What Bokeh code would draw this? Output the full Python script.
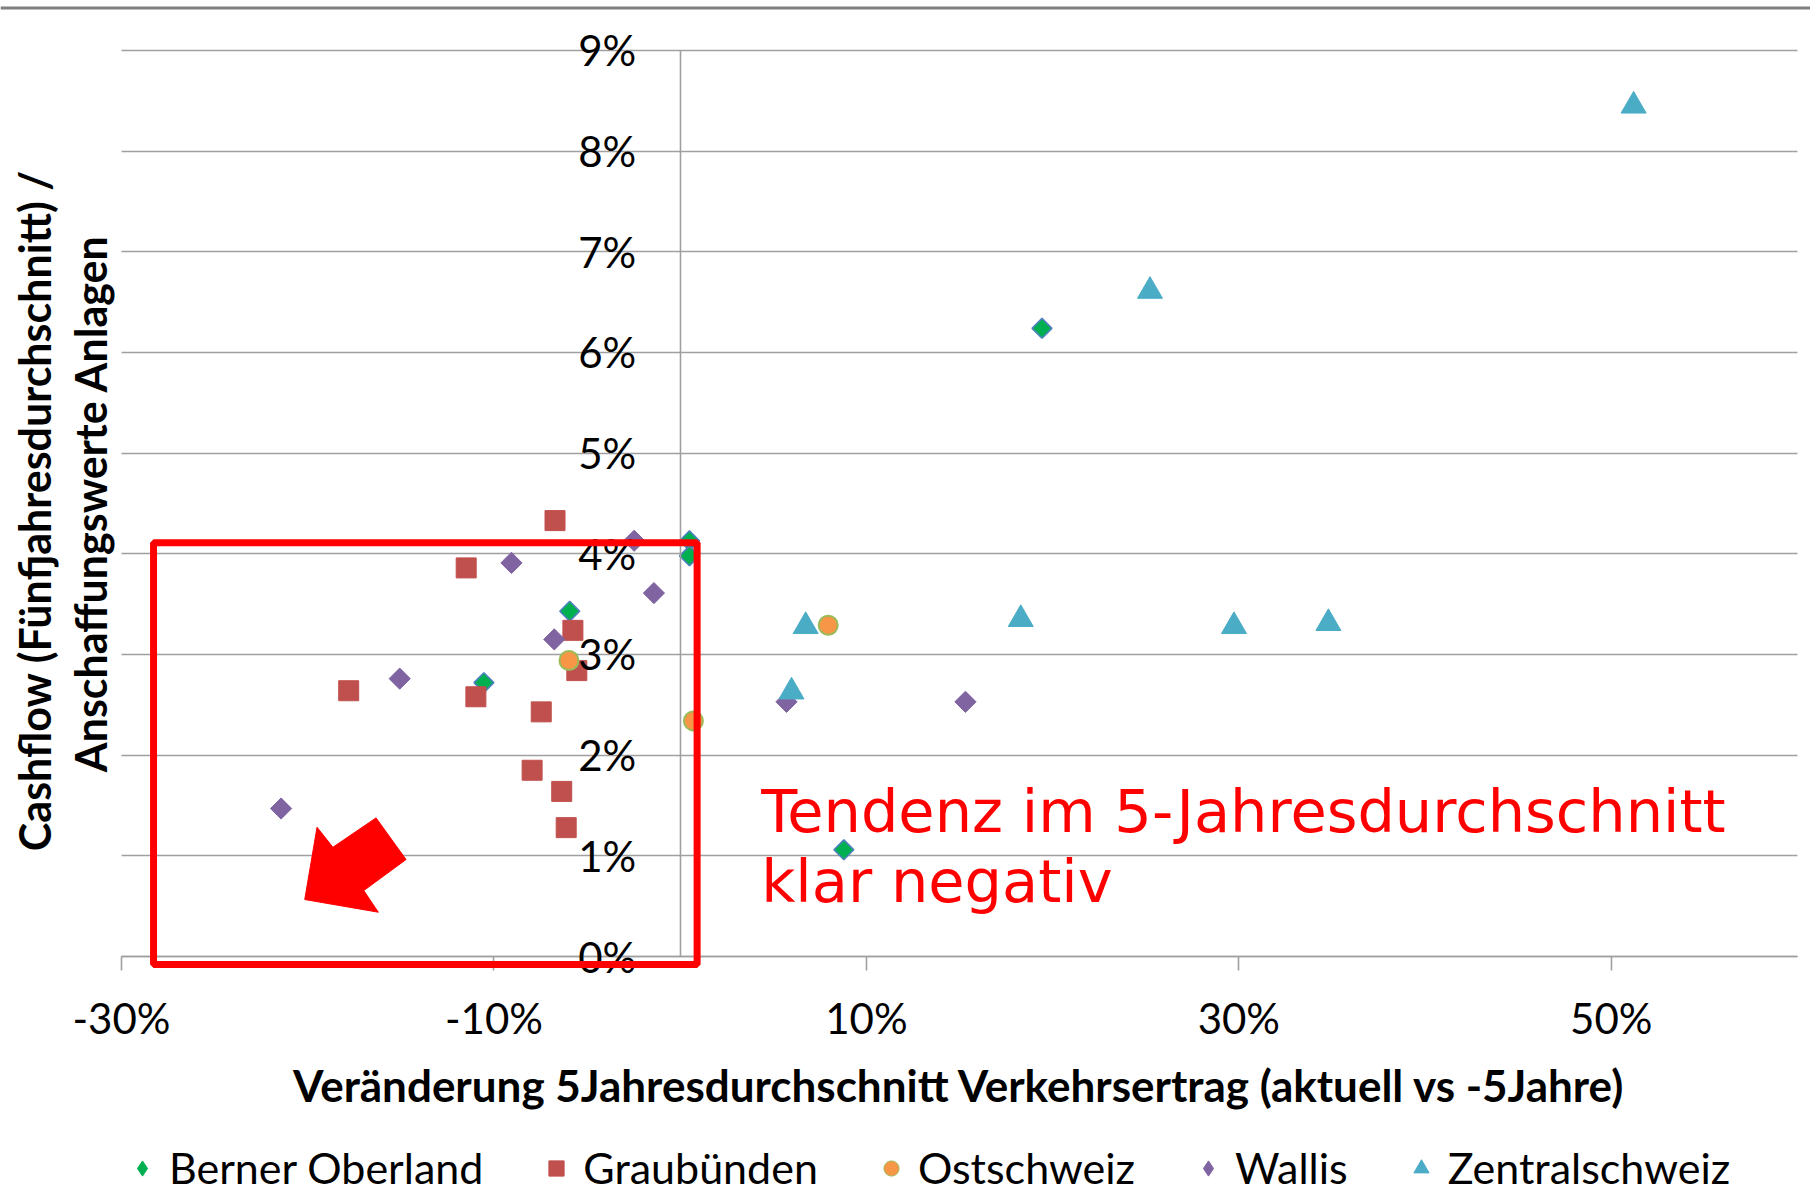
import math
from bokeh.plotting import figure
from bokeh.models import (Range1d, FixedTicker, PrintfTickFormatter, Label, Grid,
                          BoxAnnotation, Legend, LegendItem, ColumnDataSource)
from bokeh.embed import file_html
from bokeh.resources import INLINE

# ---------------- data (percent) ----------------
series_names = ["Berner Oberland", "Graubünden", "Ostschweiz", "Wallis", "Zentralschweiz"]

berner_x = [0.50, 0.50, -5.93, -10.54, 19.43, 8.79]
berner_y = [4.13, 3.98, 3.43, 2.72, 6.24, 1.06]

graub_x = [-6.72, -11.49, -5.76, -5.55, -17.80, -10.97, -7.46, -7.95, -6.36, -6.12]
graub_y = [4.33, 3.86, 3.24, 2.84, 2.64, 2.58, 2.43, 1.85, 1.64, 1.28]

ost_x = [-5.97, 0.71, 7.95]
ost_y = [2.94, 2.34, 3.29]

wallis_x = [-2.47, -9.06, -1.41, -6.76, -15.06, -21.43, 5.71, 15.32]
wallis_y = [4.13, 3.91, 3.61, 3.15, 2.76, 1.47, 2.53, 2.53]

zentral_x = [51.2, 25.23, 18.29, 6.74, 29.74, 34.81, 5.98]
zentral_y = [8.45, 6.61, 3.35, 3.28, 3.28, 3.31, 2.63]

x_ticks = [-30, -10, 10, 30, 50]
y_ticks = [0, 1, 2, 3, 4, 5, 6, 7, 8, 9]
x_axis_extent = (-30, 60)
y_axis_extent = (0, 9)

x_title = "Veränderung 5Jahresdurchschnitt Verkehrsertrag (aktuell vs -5Jahre)"
y_title_1 = "Cashflow (Fünfjahresdurchschnitt) /"
y_title_2 = "Anschaffungswerte Anlagen"
note_1 = "Tendenz im 5-Jahresdurchschnitt"
note_2 = "klar negativ"

# annotation shapes (data coordinates)
box_left, box_right, box_top, box_bottom = -28.28, 0.91, 4.11, -0.079
arrow_xs = [-20.16, -19.50, -18.65, -16.33, -14.72, -16.99, -16.21]
arrow_ys = [0.566, 1.284, 1.085, 1.377, 0.963, 0.655, 0.440]

FONT = "Lato"
GRID = "#a0a0a0"
W, H = 1810, 1196

# the frame covers the whole canvas; the axes sit at fixed data locations
p = figure(width=W, height=H,
           x_range=Range1d(-36.498, 60.699), y_range=Range1d(-2.384, 9.4964),
           output_backend="svg", toolbar_location=None,
           min_border_left=0, min_border_right=0,
           min_border_top=0, min_border_bottom=0)
p.outline_line_color = None
p.background_fill_color = "white"
p.border_fill_color = "white"

# grid
p.xgrid.visible = False
p.ygrid.ticker = FixedTicker(ticks=y_ticks)
p.ygrid.grid_line_color = GRID
p.ygrid.grid_line_width = 1.6
p.ygrid.bounds = y_axis_extent
if "cross_bounds" in Grid.properties():
    p.ygrid.cross_bounds = x_axis_extent
else:
    p.ygrid.visible = False
    p.segment(x0=x_axis_extent[0], x1=x_axis_extent[1], y0=y_ticks, y1=y_ticks,
              line_color=GRID, line_width=1.6)

# x axis at y = 0
xa = p.xaxis[0]
xa.fixed_location = 0
xa.bounds = x_axis_extent
xa.ticker = FixedTicker(ticks=x_ticks)
xa.formatter = PrintfTickFormatter(format="%d%%")
xa.axis_line_color = GRID
xa.axis_line_width = 1.6
xa.major_tick_line_color = GRID
xa.major_tick_line_width = 1.6
xa.major_tick_out = 14
xa.major_tick_in = 0
xa.minor_tick_line_color = None
xa.major_label_text_font = FONT
xa.major_label_text_font_size = "42px"
xa.major_label_text_color = "black"
xa.major_label_standoff = 22

# y axis at x = 0
ya = p.yaxis[0]
ya.fixed_location = 0
ya.bounds = y_axis_extent
ya.ticker = FixedTicker(ticks=y_ticks)
ya.formatter = PrintfTickFormatter(format="%d%%")
ya.axis_line_color = GRID
ya.axis_line_width = 1.6
ya.major_tick_out = 0
ya.major_tick_in = 0
ya.minor_tick_line_color = None
ya.major_label_text_font = FONT
ya.major_label_text_font_size = "42px"
ya.major_label_text_color = "black"
ya.major_label_standoff = 44

# series
src_b = ColumnDataSource(dict(x=berner_x, y=berner_y))
src_g = ColumnDataSource(dict(x=graub_x, y=graub_y))
src_o = ColumnDataSource(dict(x=ost_x, y=ost_y))
src_w = ColumnDataSource(dict(x=wallis_x, y=wallis_y))
src_z = ColumnDataSource(dict(x=zentral_x, y=zentral_y))

p.scatter("x", "y", source=src_b, marker="square", angle=math.pi / 4, size=14,
          fill_color="#00b050", line_color="#4f81bd", line_width=1.6)
p.scatter("x", "y", source=src_g, marker="square", size=20,
          fill_color="#c0504d", line_color="#c0504d", line_width=1)
p.scatter("x", "y", source=src_o, marker="circle", size=19,
          fill_color="#f79646", line_color="#9bbb59", line_width=2)
p.scatter("x", "y", source=src_w, marker="square", angle=math.pi / 4, size=15,
          fill_color="#8064a2", line_color="#8064a2", line_width=1)
p.scatter("x", "y", source=src_z, marker="triangle", size=25,
          fill_color="#4bacc6", line_color="#4bacc6", line_width=1)

# legend proxies (hidden renderers with legend-style shapes)
lb = p.scatter("x", "y", source=src_b, marker="diamond", size=15, fill_color="#00b050",
               line_color="#00b050", visible=False)
lg = p.scatter("x", "y", source=src_g, marker="square", size=15, fill_color="#c0504d",
               line_color="#c0504d", visible=False)
lo = p.scatter("x", "y", source=src_o, marker="circle", size=15, fill_color="#f79646",
               line_color="#9bbb59", visible=False)
lw = p.scatter("x", "y", source=src_w, marker="diamond", size=15, fill_color="#8064a2",
               line_color="#8064a2", visible=False)
lz = p.scatter("x", "y", source=src_z, marker="triangle", size=15, fill_color="#4bacc6",
               line_color="#4bacc6", visible=False)

legend = Legend(items=[LegendItem(label=n, renderers=[r]) for n, r in
                       zip(series_names, [lb, lg, lo, lw, lz])],
                orientation="horizontal", location=(123, 3),
                glyph_width=38, glyph_height=38, label_height=37,
                label_standoff=8, spacing=54, padding=0, margin=0,
                border_line_color=None, background_fill_alpha=0,
                label_text_font=FONT, label_text_font_size="43px",
                label_text_color="black", click_policy="none")
p.add_layout(legend, "center")

# axis titles
p.add_layout(Label(x=15, y=-1.28, text=x_title, text_font=FONT,
                   text_font_size="44px", text_font_style="bold",
                   text_align="center", text_baseline="alphabetic",
                   text_color="black"))
p.add_layout(Label(x=-34.67, y=4.43, text=y_title_1, angle=math.pi / 2,
                   text_font=FONT, text_font_size="43px", text_font_style="bold",
                   text_align="center", text_baseline="middle", text_color="black"))
p.add_layout(Label(x=-31.66, y=4.50, text=y_title_2, angle=math.pi / 2,
                   text_font=FONT, text_font_size="43px", text_font_style="bold",
                   text_align="center", text_baseline="middle", text_color="black"))

# red annotation
p.patch(arrow_xs, arrow_ys, fill_color="#ff0000", line_color="#ff0000", line_width=1)
p.add_layout(BoxAnnotation(left=box_left, right=box_right, top=box_top, bottom=box_bottom,
                           fill_alpha=0, line_color="#ff0000", line_alpha=1, line_width=7,
                           level="overlay"))
p.add_layout(Label(x=4.35, y=1.44, text=note_1, text_font="DejaVu Sans",
                   text_font_size="59px", text_color="#ff0000",
                   text_baseline="alphabetic"))
p.add_layout(Label(x=4.35, y=0.746, text=note_2, text_font="DejaVu Sans",
                   text_font_size="59px", text_color="#ff0000",
                   text_baseline="alphabetic"))

# slide border line at the very top
p.add_layout(BoxAnnotation(left=-36.5, right=60.7, top=9.437, bottom=9.407,
                           fill_color="#7f7f7f", fill_alpha=1, line_alpha=0))

open("out.html", "w").write(file_html(p, INLINE))
